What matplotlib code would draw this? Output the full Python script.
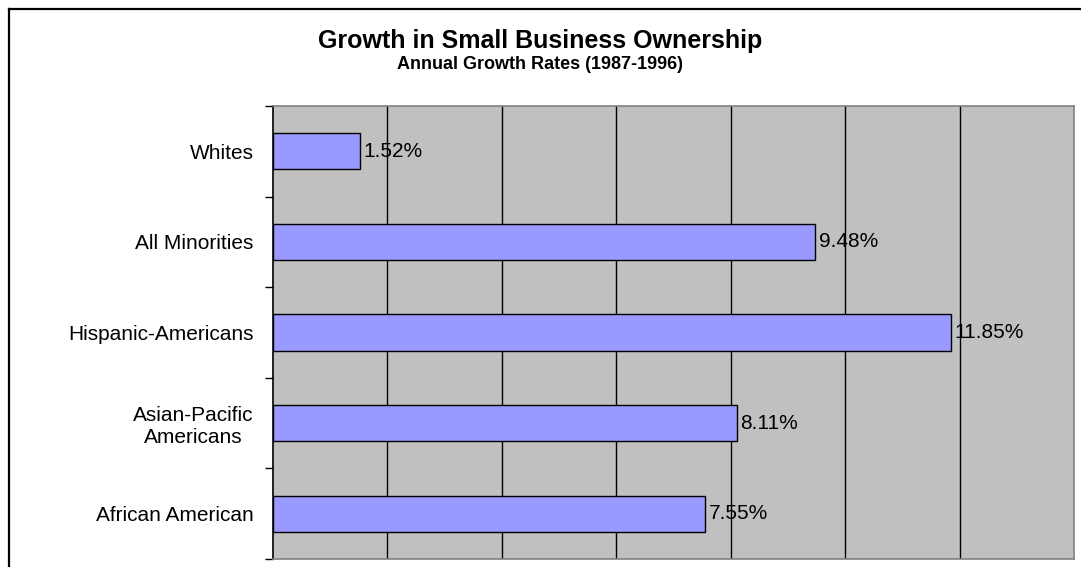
import matplotlib.pyplot as plt
from matplotlib.lines import Line2D

# data, bottom to top as drawn
groups = ["African American", "Asian-Pacific\nAmericans", "Hispanic-Americans",
          "All Minorities", "Whites"]
growth = [7.55, 8.11, 11.85, 9.48, 1.52]

plt.rcParams["font.family"] = ["Liberation Sans", "DejaVu Sans"]

W, H = 1081, 567
fig = plt.figure(figsize=(W / 100, H / 100), dpi=100)
fig.patch.set_facecolor("white")

# outer chart frame (left and top edges are visible, rest is cut off)
fig.add_artist(Line2D([9 / W, 9 / W], [0, 1 - 9 / H], color="black", lw=1.6,
                      transform=fig.transFigure))
fig.add_artist(Line2D([9 / W, 1], [1 - 9 / H, 1 - 9 / H], color="black", lw=1.6,
                      transform=fig.transFigure))

ax = fig.add_axes([273 / W, 1 - 559 / H, (1074 - 273) / W, (559 - 106) / H])
ax.set_facecolor("#C0C0C0")

ypos = list(range(len(groups)))
ax.barh(ypos, growth, height=0.4, color="#9999FF", edgecolor="black",
        linewidth=1.0, zorder=3)

for y, v in zip(ypos, growth):
    ax.annotate(f"{v:.2f}%", (v, y), xytext=(2.5, 0), textcoords="offset points",
                va="center", ha="left", fontsize=15, zorder=4)

ax.set_xlim(0, 14)
ax.set_ylim(-0.5, len(groups) - 0.5)
ax.set_xticks([2, 4, 6, 8, 10, 12])
ax.xaxis.grid(True, color="black", lw=1.0, zorder=1)
ax.tick_params(axis="x", length=0, labelbottom=False)

ax.set_yticks(ypos)
ax.set_yticklabels(groups, fontsize=15, multialignment="center")
ax.set_yticks([y + 0.5 for y in [-1] + ypos], minor=True)
ax.tick_params(axis="y", which="major", length=0, pad=14)
ax.tick_params(axis="y", which="minor", length=6, width=1, color="black")

for side in ["top", "right", "bottom"]:
    ax.spines[side].set_color("#808080")
    ax.spines[side].set_linewidth(1.2)
ax.spines["left"].set_color("black")
ax.spines["left"].set_linewidth(1.2)

fig.text(540 / W, 1 - 41 / H, "Growth in Small Business Ownership",
         ha="center", va="center", fontsize=18, fontweight="bold")
fig.text(540 / W, 1 - 65 / H, "Annual Growth Rates (1987-1996)",
         ha="center", va="center", fontsize=13, fontweight="bold")

fig.savefig("out.png", dpi=100)
